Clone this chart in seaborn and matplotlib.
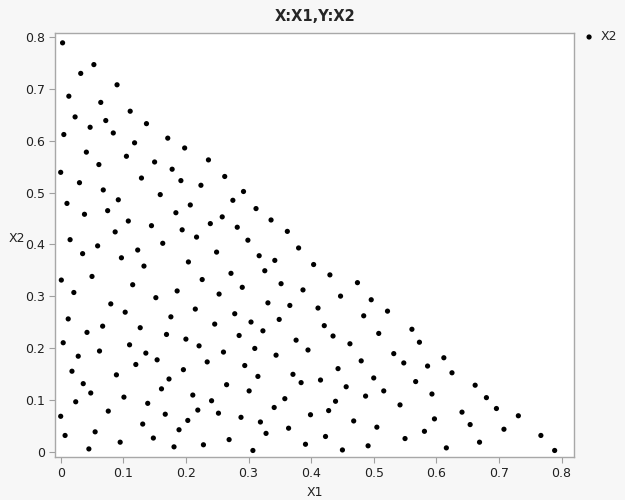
import matplotlib
matplotlib.use("Agg")
import matplotlib.pyplot as plt
import seaborn as sns
import pandas as pd

# values
x1 = [0.003, 0.053, 0.032, 0.090, 0.013, 0.064, 0.111, 0.023, 0.072, 0.047, 0.137, 0.084, 0.005, 0.118, 0.171,
      0.198, 0.041, 0.105, 0.061, 0.150, 0.178, 0.000, 0.236,
      0.030, 0.129, 0.192, 0.068, 0.092, 0.010, 0.159, 0.038, 0.075, 0.184, 0.108, 0.145, 0.194, 0.087, 0.015,
      0.059, 0.163, 0.035, 0.123, 0.097, 0.133, 0.001, 0.050, 0.021, 0.115, 0.186, 0.152, 0.080, 0.103,
      0.224, 0.262, 0.292, 0.207, 0.275, 0.312, 0.258, 0.239, 0.336, 0.282, 0.217, 0.362, 0.299, 0.249, 0.380,
      0.317, 0.342, 0.204, 0.404, 0.326, 0.272, 0.226, 0.352, 0.290, 0.387, 0.253, 0.331, 0.366, 0.215, 0.278,
      0.430, 0.474, 0.447, 0.496, 0.411, 0.522,
      0.012, 0.176, 0.042, 0.067, 0.127, 0.169, 0.004, 0.062, 0.110, 0.136, 0.028, 0.154, 0.120, 0.018, 0.089,
      0.173, 0.036, 0.048, 0.161, 0.101, 0.024, 0.139, 0.076, 0.000, 0.167, 0.131, 0.007, 0.055, 0.189, 0.148,
      0.095, 0.045, 0.181,
      0.246, 0.304, 0.349, 0.200, 0.285, 0.323, 0.221, 0.260, 0.310, 0.376, 0.395, 0.344, 0.234, 0.294, 0.196,
      0.315, 0.371, 0.384, 0.265, 0.301, 0.211, 0.241, 0.358, 0.341, 0.219, 0.252, 0.288, 0.399, 0.203, 0.319,
      0.364, 0.328, 0.228, 0.269, 0.391, 0.307,
      0.484, 0.421, 0.435, 0.508, 0.561, 0.462, 0.573, 0.532, 0.548, 0.480, 0.586, 0.443, 0.415, 0.500, 0.567,
      0.456, 0.516, 0.593, 0.487, 0.439, 0.542, 0.428, 0.597, 0.468, 0.505, 0.581, 0.423, 0.550, 0.491, 0.450,
      0.612, 0.625, 0.662, 0.680, 0.641, 0.696, 0.731, 0.654, 0.708, 0.767, 0.669, 0.616, 0.789]
x2 = [0.789, 0.747, 0.730, 0.708, 0.686, 0.674, 0.657, 0.646, 0.639, 0.626, 0.633, 0.615, 0.612, 0.596, 0.605,
      0.586, 0.578, 0.570, 0.554, 0.559, 0.545, 0.539, 0.563,
      0.519, 0.528, 0.523, 0.505, 0.486, 0.479, 0.496, 0.458, 0.465, 0.461, 0.445, 0.436, 0.428, 0.424, 0.409,
      0.397, 0.402, 0.382, 0.389, 0.374, 0.358, 0.331, 0.338, 0.307, 0.322, 0.310, 0.297, 0.285, 0.269,
      0.514, 0.531, 0.502, 0.476, 0.485, 0.469, 0.453, 0.440, 0.447, 0.433, 0.414, 0.425, 0.408, 0.385, 0.393,
      0.378, 0.369, 0.366, 0.361, 0.349, 0.344, 0.332, 0.324, 0.317, 0.312, 0.304, 0.287, 0.282, 0.275, 0.266,
      0.341, 0.326, 0.300, 0.293, 0.277, 0.271,
      0.256, 0.260, 0.230, 0.242, 0.239, 0.226, 0.210, 0.194, 0.206, 0.190, 0.184, 0.177, 0.168, 0.155, 0.148,
      0.140, 0.131, 0.113, 0.121, 0.105, 0.096, 0.093, 0.078, 0.068, 0.072, 0.053, 0.031, 0.038, 0.042, 0.026,
      0.018, 0.005, 0.009,
      0.246, 0.250, 0.255, 0.217, 0.224, 0.233, 0.204, 0.192, 0.199, 0.215, 0.196, 0.186, 0.173, 0.166, 0.158,
      0.145, 0.149, 0.133, 0.129, 0.117, 0.109, 0.098, 0.102, 0.085, 0.080, 0.074, 0.066, 0.071, 0.060, 0.057,
      0.045, 0.035, 0.013, 0.023, 0.014, 0.002,
      0.262, 0.243, 0.223, 0.228, 0.236, 0.208, 0.211, 0.189, 0.171, 0.175, 0.165, 0.160, 0.138, 0.142, 0.135,
      0.125, 0.117, 0.111, 0.107, 0.097, 0.090, 0.079, 0.063, 0.059, 0.047, 0.039, 0.029, 0.025, 0.011, 0.003,
      0.181, 0.152, 0.128, 0.104, 0.076, 0.083, 0.069, 0.052, 0.043, 0.031, 0.018, 0.007, 0.002]
ticks = [0, 0.1, 0.2, 0.3, 0.4, 0.5, 0.6, 0.7, 0.8]
tick_labels = ["0", "0.1", "0.2", "0.3", "0.4", "0.5", "0.6", "0.7", "0.8"]

df = pd.DataFrame({"X1": x1, "X2": x2})

sns.set_style("white")
fig = plt.figure(figsize=(6.25, 5), dpi=100, facecolor="#f7f7f7")
ax = fig.add_axes([0.0885, 0.086, 0.830, 0.848])
ax.set_facecolor("white")

sns.scatterplot(data=df, x="X1", y="X2", color="black", s=14, edgecolor="none", label="X2", ax=ax)

ax.set_xlim(-0.0086, 0.820)
ax.set_ylim(-0.0106, 0.808)
ax.set_xticks(ticks)
ax.set_xticklabels(tick_labels)
ax.set_yticks(ticks)
ax.set_yticklabels(tick_labels)
ax.tick_params(axis="both", which="major", direction="out", length=4, width=0.8,
               color="#a0a0a0", labelsize=9, labelcolor="#202020", bottom=True, left=True)
for s in ax.spines.values():
    s.set_color("#a8a8a8")
    s.set_linewidth(1)

ax.set_xlabel("X1", fontsize=9, color="#202020")
ax.set_ylabel("X2", fontsize=9, color="#202020", rotation=0, labelpad=12)
ax.yaxis.set_label_coords(-0.075, 0.5)
ax.set_title("X:X1,Y:X2", fontsize=10.5, fontweight="bold", pad=9)

ax.legend(loc="upper left", bbox_to_anchor=(1.0, 1.03), frameon=False, fontsize=9,
          handlelength=0.8, handletextpad=0.5, borderpad=0.2, borderaxespad=0.6)

fig.savefig("out.png", dpi=100, facecolor=fig.get_facecolor())
